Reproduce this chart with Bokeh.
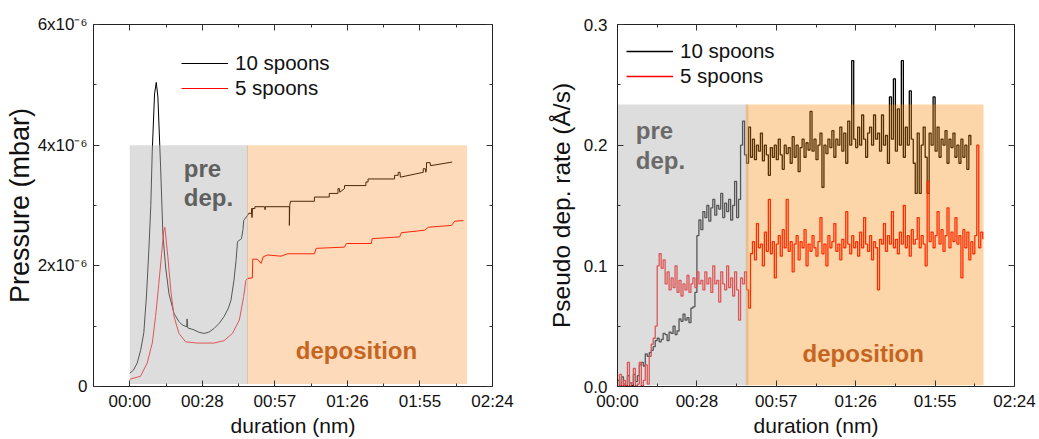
import numpy as np
from bokeh.plotting import figure
from bokeh.layouts import row
from bokeh.models import FixedTicker, LinearAxis, Label, Range1d
from bokeh.embed import file_html
from bokeh.resources import INLINE

FONT = "Liberation Sans"

# ---------------- data ----------------
series_names = ["10 spoons", "5 spoons"]
series_colors = ["#000000", "#ff0000"]

x_ticks = [0.0, 0.02, 0.04, 0.06, 0.08, 0.10]          # duration in days
x_tick_labels = ["00:00", "00:28", "00:57", "01:26", "01:55", "02:24"]
x_minor = [0.01, 0.03, 0.05, 0.07, 0.09]

p_ticks = [0.0, 2e-6, 4e-6, 6e-6]
p_tick_labels = ["0", "2x10⁻⁶", "4x10⁻⁶", "6x10⁻⁶"]
p_minor = [1e-6, 3e-6, 5e-6]

r_ticks = [0.0, 0.1, 0.2, 0.3]
r_tick_labels = ["0.0", "0.1", "0.2", "0.3"]
r_minor = [0.05, 0.15, 0.25]

# pressure, 10 spoons: time (days), pressure (1e-6 mbar)
t_p10 = [0.0, 0.001, 0.00205, 0.003, 0.00387, 0.0046, 0.00526, 0.0058, 0.0062,
         0.00683, 0.0073, 0.00775, 0.0085, 0.00913, 0.00988, 0.0108, 0.0122,
         0.0135, 0.0145, 0.0157, 0.0158, 0.016, 0.0177, 0.019, 0.0205, 0.0218,
         0.0232, 0.0247, 0.026, 0.0272, 0.0279, 0.0287, 0.0293, 0.0297, 0.0308,
         0.0312, 0.0314, 0.0325, 0.0328, 0.0336, 0.0336, 0.0337, 0.0338, 0.0345,
         0.0345, 0.0372, 0.0373, 0.0374, 0.0440, 0.0440, 0.0441, 0.0443, 0.0509,
         0.0509, 0.0550, 0.0550, 0.0574, 0.0574, 0.0578, 0.0579, 0.0592, 0.0592,
         0.0651, 0.0651, 0.0657, 0.0657, 0.0730, 0.0730, 0.0740, 0.0740, 0.0745,
         0.0746, 0.0809, 0.0809, 0.0815, 0.0816, 0.0818, 0.0818, 0.0828, 0.0829,
         0.0889]
p10_e6 = [0.22, 0.27, 0.39, 0.60, 0.89, 1.50, 2.26, 3.00, 3.90,
          4.85, 5.04, 4.80, 3.64, 2.53, 1.98, 1.54, 1.21,
          1.08, 1.02, 0.99, 1.12, 0.97, 0.94, 0.90, 0.88, 0.90,
          0.96, 1.05, 1.16, 1.30, 1.43, 1.75, 2.09, 2.40, 2.45,
          2.60, 2.75, 2.84, 2.87, 2.87, 2.95, 2.80, 2.95, 2.95,
          2.98, 2.98, 2.93, 2.98, 2.98, 2.67, 3.00, 3.07, 3.07,
          3.14, 3.14, 3.20, 3.20, 3.28, 3.28, 3.22, 3.28, 3.33,
          3.33, 3.39, 3.39, 3.44, 3.44, 3.50, 3.50, 3.55, 3.55,
          3.47, 3.55, 3.61, 3.61, 3.55, 3.61, 3.71, 3.71, 3.66,
          3.72]

# pressure, 5 spoons
t_p5 = [0.0, 0.00296, 0.00481, 0.0062, 0.00711, 0.00802, 0.00877, 0.0094,
        0.00968, 0.0105, 0.0113, 0.0122, 0.01355, 0.0154, 0.01864, 0.0232,
        0.026, 0.0283, 0.0302, 0.0314, 0.032, 0.0325, 0.0338, 0.0339, 0.0352,
        0.0362, 0.0368, 0.038, 0.0417, 0.0435, 0.0509, 0.0514, 0.0592, 0.0597,
        0.0666, 0.0668, 0.0744, 0.0749, 0.0813, 0.0823, 0.0887, 0.0896, 0.0920]
p5_e6 = [0.12, 0.17, 0.39, 0.72, 1.16, 1.71, 2.20, 2.59,
         2.64, 2.15, 1.60, 1.16, 0.88, 0.74, 0.72, 0.72,
         0.76, 0.88, 1.10, 1.49, 1.76, 1.79, 1.80, 2.11, 2.11,
         2.04, 2.15, 2.18, 2.16, 2.20, 2.20, 2.29, 2.31, 2.37,
         2.37, 2.45, 2.48, 2.55, 2.59, 2.64, 2.67, 2.74, 2.75]

# pseudo deposition rate, sampled every 0.0005 day, in 0.001 Å/s
rate_dt = 0.0005
rate10_milli = [5, 0, 8, 2, 0, 9, 3, 1, 10, 4, 9, 18, 20, 17, 27, 25, 28, 30, 33, 38,
                40, 37, 39, 44, 43, 38, 45, 44, 50, 43, 46, 56, 54, 60, 55, 57, 53, 65, 66, 78,
                125, 138, 130, 145, 140, 150, 137, 148, 155, 142, 150, 147, 160, 140, 152, 145, 155, 138, 150, 170,
                140, 155, 200, 220, 192, 185, 215, 190, 205, 188, 200, 195, 210, 187, 200, 192, 175, 198, 190, 200,
                188, 205, 192, 180, 200, 193, 198, 185, 207, 190, 200, 178, 198, 205, 190, 202, 196, 228, 195, 205,
                188, 200, 210, 165, 200, 193, 205, 198, 212, 190, 205, 200, 215, 195, 210, 185, 220, 200, 270, 205,
                198, 215, 200, 225, 205, 190, 210, 215, 200, 225, 205, 210, 195, 225, 200, 208, 185, 240, 205, 255,
                195, 230, 200, 270, 190, 215, 200, 245, 205, 185, 160, 210, 160, 200, 215, 190, 160, 210, 200, 240,
                195, 215, 190, 205, 200, 212, 185, 205, 198, 210, 190, 200, 185, 205, 190, 200, 180, 208, 200]
rate5_milli = [0, 10, 0, 5, 0, 20, 0, 3, 15, 0, 2, 20, 0, 5, 18, 2, 25, 35, 40, 50,
               100, 110, 98, 105, 85, 95, 80, 90, 82, 100, 78, 88, 75, 85, 80, 92, 78, 85, 90, 82,
               95, 85, 88, 80, 95, 85, 90, 78, 100, 85, 88, 70, 95, 85, 80, 100, 82, 90, 75, 95,
               80, 55, 90, 85, 95, 80, 65, 110, 120, 105, 135, 115, 118, 100, 128, 112, 155, 110, 120, 90,
               118, 125, 108, 130, 115, 155, 112, 120, 95, 118, 125, 105, 120, 115, 130, 100, 118, 112, 125, 115,
               108, 120, 140, 110, 118, 100, 125, 115, 120, 135, 112, 118, 105, 122, 115, 145, 118, 110, 125, 115,
               120, 108, 128, 115, 140, 118, 112, 125, 105, 120, 115, 80, 122, 118, 135, 112, 125, 118, 145, 115,
               122, 110, 128, 118, 150, 115, 125, 108, 130, 118, 122, 140, 115, 125, 118, 100, 170, 120, 128, 115,
               125, 145, 118, 130, 112, 125, 148, 115, 128, 120, 140, 118, 125, 90, 130, 115, 128, 105, 120, 110,
               125, 200, 115, 128, 122]

# process phases (days) and shading heights
phase_names = ["pre dep.", "deposition"]
left_phase_start = [0.0, 0.0323]
left_phase_end = [0.0326, 0.0930]
left_phase_top = 4e-6
right_phase_start = [0.0, 0.0323]
right_phase_end = [0.0330, 0.0922]
right_phase_top = 0.2336

# ---------------- derived ----------------
t_p10 = np.array(t_p10)
p10 = np.array(p10_e6) * 1e-6
t_p5 = np.array(t_p5)
p5 = np.array(p5_e6) * 1e-6
rate10 = np.array(rate10_milli) / 1000.0
rate5 = np.array(rate5_milli) / 1000.0
t_r10 = np.arange(len(rate10)) * rate_dt
t_r5 = np.arange(len(rate5)) * rate_dt

GRAY = "#b6b6b6"
GRAY_A = 0.47
TEXT_GRAY = "#606060"
DEP_TEXT = "#c5651f"


def style(p, yticks, yminor, ylabels, ylabel, ylab_size, ystand, ylab_stand):
    bottom = p.below[0]
    left = p.left[0]
    bottom.ticker = FixedTicker(ticks=x_ticks, minor_ticks=x_minor)
    bottom.major_label_overrides = dict(zip(x_ticks, x_tick_labels))
    left.ticker = FixedTicker(ticks=yticks, minor_ticks=yminor)
    left.major_label_overrides = dict(zip(yticks, ylabels))
    bottom.axis_label = "duration (nm)"
    left.axis_label = ylabel
    top = LinearAxis(ticker=FixedTicker(ticks=x_ticks, minor_ticks=x_minor),
                     major_label_overrides={t: "" for t in x_ticks},
                     major_label_text_font_size="0px", major_label_standoff=0)
    right = LinearAxis(ticker=FixedTicker(ticks=yticks, minor_ticks=yminor),
                       major_label_overrides={t: "" for t in yticks},
                       major_label_text_font_size="0px", major_label_standoff=0)
    p.add_layout(top, "above")
    p.add_layout(right, "right")
    for ax in [bottom, left, top, right]:
        ax.major_tick_in = 6
        ax.major_tick_out = 0
        ax.minor_tick_in = 3
        ax.minor_tick_out = 0
        ax.axis_line_color = "#222222"
        ax.major_tick_line_color = "#333333"
        ax.minor_tick_line_color = "#333333"
    for ax in [bottom, left]:
        ax.major_label_text_font = FONT
        ax.major_label_text_font_size = "17px"
        ax.major_label_text_color = "#111111"
        ax.axis_label_text_font = FONT
        ax.axis_label_text_font_style = "normal"
        ax.axis_label_text_color = "#111111"
    bottom.axis_label_text_font_size = "21px"
    bottom.major_label_standoff = 5
    bottom.axis_label_standoff = 0
    left.axis_label_text_font_size = ylab_size
    left.major_label_standoff = ystand
    left.axis_label_standoff = ylab_stand
    p.xgrid.visible = False
    p.ygrid.visible = False
    p.outline_line_color = "#222222"
    p.background_fill_color = "white"
    p.border_fill_color = "white"


def style_legend(p, loc):
    lg = p.legend[0]
    lg.location = loc
    lg.label_text_font = FONT
    lg.label_text_font_size = "20.5px"
    lg.label_text_color = "#111111"
    lg.glyph_width = 47
    lg.glyph_height = 20
    lg.label_height = 20
    lg.label_standoff = 7
    lg.spacing = 1
    lg.padding = 0
    lg.margin = 0
    lg.background_fill_alpha = 0
    lg.border_line_alpha = 0


# ---------------- left: pressure ----------------
p1 = figure(width=522, height=439, output_backend="svg", toolbar_location=None,
            x_range=Range1d(-0.01, 0.10), y_range=Range1d(0, 6e-6),
            min_border_left=93, min_border_right=30, min_border_top=24, min_border_bottom=52)
p1.line(t_p10, p10, line_color=series_colors[0], line_width=1, legend_label=series_names[0])
p1.line(t_p5, p5, line_color=series_colors[1], line_width=1, legend_label=series_names[1])
p1.quad(left=[left_phase_start[0]], right=[left_phase_end[0]], bottom=[0.04e-6], top=[left_phase_top],
        fill_color=GRAY, fill_alpha=GRAY_A, line_color=None)
p1.quad(left=[left_phase_start[1]], right=[left_phase_end[1]], bottom=[0.04e-6], top=[left_phase_top],
        fill_color="#f58419", fill_alpha=0.30, line_color=None)
style(p1, p_ticks, p_minor, p_tick_labels, "Pressure (mbar)", "27px", 6, 0)
style_legend(p1, (88, 286))
pre1, pre2 = phase_names[0].split(" ")
for txt, yy in [(pre1, 3.61e-6), (pre2, 3.14e-6)]:
    p1.add_layout(Label(x=0.0149, y=yy, text=txt, text_font=FONT, text_font_style="bold",
                        text_font_size="24px", text_color=TEXT_GRAY, text_align="left",
                        text_baseline="alphabetic"))
p1.add_layout(Label(x=0.0625, y=0.595e-6, text=phase_names[1], text_font=FONT, text_font_style="bold",
                    text_font_size="24px", text_color=DEP_TEXT, text_align="center",
                    text_baseline="alphabetic"))

# ---------------- right: rate ----------------
p2 = figure(width=517, height=439, output_backend="svg", toolbar_location=None,
            x_range=Range1d(0.0, 0.10), y_range=Range1d(0, 0.3),
            min_border_left=95, min_border_right=25, min_border_top=24, min_border_bottom=52)
p2.step(t_r10, rate10, mode="after", line_color=series_colors[0], line_width=1.3, legend_label=series_names[0])
p2.step(t_r5, rate5, mode="after", line_color=series_colors[1], line_width=1.3, legend_label=series_names[1])
p2.quad(left=[right_phase_start[0]], right=[right_phase_end[0]], bottom=[0.001], top=[right_phase_top],
        fill_color=GRAY, fill_alpha=GRAY_A, line_color=None)
p2.quad(left=[right_phase_start[1]], right=[right_phase_end[1]], bottom=[0.001], top=[right_phase_top],
        fill_color="#f68706", fill_alpha=0.35, line_color=None)
style(p2, r_ticks, r_minor, r_tick_labels, "Pseudo dep. rate (Å/s)", "24.5px", 10, 6)
style_legend(p2, (9, 298))
for txt, yy in [(pre1, 0.212), (pre2, 0.187)]:
    p2.add_layout(Label(x=0.0046, y=yy, text=txt, text_font=FONT, text_font_style="bold",
                        text_font_size="24px", text_color="#6a6a6a", text_align="left",
                        text_baseline="alphabetic"))
p2.add_layout(Label(x=0.0619, y=0.0273, text=phase_names[1], text_font=FONT, text_font_style="bold",
                    text_font_size="24px", text_color=DEP_TEXT, text_align="center",
                    text_baseline="alphabetic"))

layout = row(p1, p2)
open("out.html", "w").write(file_html(layout, INLINE))
